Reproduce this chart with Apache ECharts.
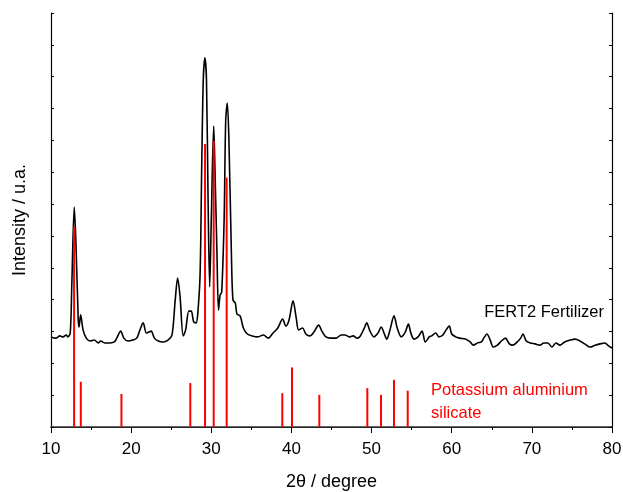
<!DOCTYPE html>
<html>
<head>
<meta charset="utf-8">
<script src="https://cdn.jsdelivr.net/npm/echarts@6/dist/echarts.min.js"></script>
<style>html,body{margin:0;padding:0;background:#fff}#c{width:623px;height:492px}</style>
</head>
<body>
<div id="c"></div>
<script>
// FERT2 Fertilizer pattern: 2θ and intensity
var patternTheta = [10.0,10.6,11.1,11.5,11.9,12.1,12.4,12.6,12.9,13.1,13.4,13.5,13.7,14.0,14.4,14.9,15.4,15.9,16.2,16.7,17.4,17.9,18.2,18.7,19.1,19.6,20.2,20.7,21.1,21.5,21.9,22.2,22.5,22.9,23.4,24.0,24.6,25.1,25.5,25.8,26.1,26.5,26.8,27.2,27.5,27.8,28.1,28.3,28.6,28.8,29.0,29.2,29.4,29.6,29.8,30.0,30.3,30.4,30.7,30.9,31.1,31.3,31.6,31.8,32.0,32.2,32.5,32.7,33.0,33.2,33.6,34.0,34.5,35.1,35.8,36.5,37.1,37.7,38.3,38.9,39.3,39.7,40.2,40.6,40.9,41.4,41.8,42.3,42.8,43.4,43.8,44.3,44.9,45.6,46.2,46.7,47.2,47.7,48.2,48.6,49.1,49.4,49.8,50.3,50.8,51.2,51.6,51.9,52.3,52.8,53.2,53.7,54.2,54.6,54.9,55.3,55.8,56.3,56.7,57.2,57.5,58.0,58.4,58.9,59.3,59.7,60.0,60.5,61.0,61.7,62.3,62.7,63.2,63.7,64.0,64.4,64.8,65.2,65.7,66.2,66.7,67.2,67.6,68.3,68.6,68.9,69.3,69.8,70.4,71.0,71.5,72.0,72.5,73.0,73.5,74.1,74.8,75.4,76.0,76.6,77.3,77.9,78.5,79.1,79.6,80.0];
var patternIntensity = [283,279,286,283,289,283,295,450,691,587,336,314,352,305,279,270,273,264,270,264,264,267,279,301,279,270,273,279,305,327,295,298,301,279,270,267,273,289,399,468,411,286,305,364,364,330,327,352,477,807,1090,1159,1090,713,440,650,945,870,556,367,414,424,650,964,1017,901,556,399,389,355,349,311,292,286,283,289,279,295,311,339,317,336,396,342,305,311,292,286,298,320,301,283,279,279,289,289,283,286,279,286,311,327,301,283,295,314,292,276,305,349,311,283,298,323,295,276,283,301,267,283,286,295,283,289,305,317,292,283,279,276,267,257,264,267,279,292,273,251,257,270,279,261,257,270,279,292,270,264,261,257,264,264,251,264,257,267,273,276,270,261,251,257,261,264,254,248];

// Potassium aluminium silicate reference lines
var refTheta = [12.88,13.72,18.79,27.38,29.22,30.30,31.92,38.86,40.07,43.48,49.47,51.18,52.80,54.51];
var refIntensity = [629,142,104,138,889,899,783,106,187,101,122,101,148,114];

var xTickLabels = ['10','20','30','40','50','60','70','80'];

var lineData = patternTheta.map(function(t,i){return [t, patternIntensity[i]];});
var stickData = refTheta.map(function(t,i){return [t, refIntensity[i]];});

var FONT = 'Liberation Sans, Arial, sans-serif';
var chart = echarts.init(document.getElementById('c'), null, {renderer:'canvas'});
chart.setOption({
  animation:false,
  backgroundColor:'#fff',
  grid:{left:51,right:11,top:13,bottom:65,show:false,containLabel:false,outerBoundsMode:'none'},
  xAxis:[{
    type:'value',min:10,max:80,interval:10,position:'bottom',
    name:'2\u03b8 / degree',nameLocation:'middle',nameGap:46,
    nameTextStyle:{fontFamily:FONT,fontSize:18,color:'#000'},
    axisLine:{lineStyle:{color:'#000',width:1.2}},
    axisTick:{inside:false,length:6,lineStyle:{color:'#000',width:1}},
    minorTick:{show:true,splitNumber:2,length:3,lineStyle:{color:'#000',width:1}},
    axisLabel:{fontFamily:FONT,fontSize:17,color:'#000',margin:14,
      formatter:function(v){var s=String(v);return xTickLabels.indexOf(s)>=0?s:'';}},
    splitLine:{show:false}
  },{
    type:'value',min:10,max:80,interval:5,position:'top',
    axisLine:{lineStyle:{color:'#333',width:1.5}},
    axisTick:{inside:true,length:3,lineStyle:{color:'#000'}},
    axisLabel:{show:false},splitLine:{show:false}
  }],
  yAxis:[{
    type:'value',min:0,max:1300,interval:100,position:'left',
    name:'Intensity / u.a.',nameLocation:'middle',nameGap:22,
    nameTextStyle:{fontFamily:FONT,fontSize:18,color:'#000'},
    axisLine:{show:true,lineStyle:{color:'#000',width:1.2}},
    axisTick:{show:true,inside:true,length:3,lineStyle:{color:'#000'}},
    axisLabel:{show:false},splitLine:{show:false}
  },{
    type:'value',min:0,max:1300,interval:100,position:'right',
    axisLine:{show:true,lineStyle:{color:'#000',width:1.2}},
    axisTick:{show:true,inside:true,length:3,lineStyle:{color:'#000'}},
    axisLabel:{show:false},splitLine:{show:false}
  }],
  series:[{
    type:'line',xAxisIndex:0,yAxisIndex:0,data:lineData,smooth:0.3,
    showSymbol:false,lineStyle:{color:'#000',width:1.6},z:2
  },{
    type:'bar',xAxisIndex:0,yAxisIndex:0,data:stickData,barWidth:2,
    itemStyle:{color:'#ff0000'},z:3
  }],
  graphic:[
    {type:'text',right:19,top:304,style:{text:'FERT2 Fertilizer',fill:'#000',font:'16.5px '+FONT}},
    {type:'text',left:431,top:382,style:{text:'Potassium aluminium',fill:'#ff0000',font:'16.5px '+FONT}},
    {type:'text',left:431,top:405,style:{text:'silicate',fill:'#ff0000',font:'16.5px '+FONT}}
  ]
});
</script>
</body>
</html>
